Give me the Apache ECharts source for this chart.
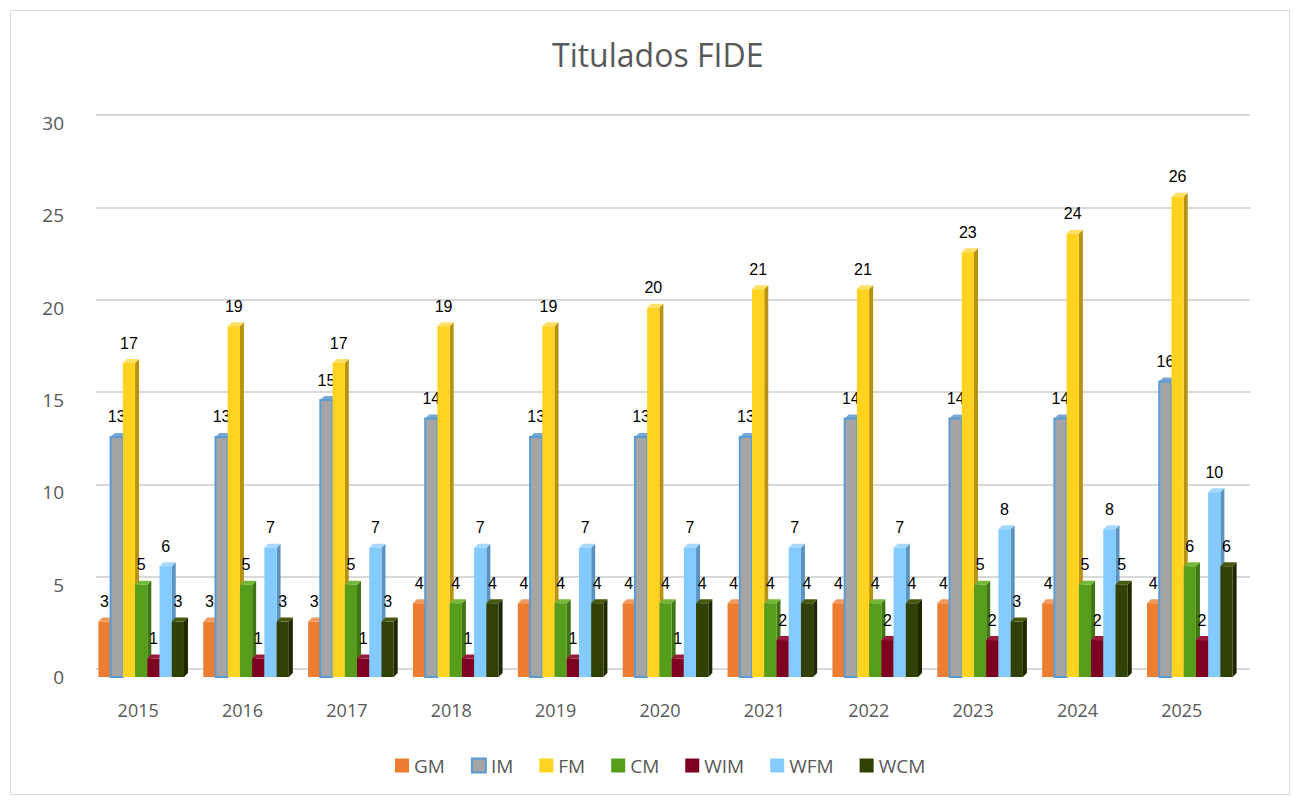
<!DOCTYPE html>
<html>
<head>
<meta charset="utf-8">
<script src="https://cdn.jsdelivr.net/npm/echarts@6/dist/echarts.min.js"></script>
<style>
  html, body { margin: 0; padding: 0; background: #fff; }
  #chart { width: 1294px; height: 801px; }
</style>
</head>
<body>
<div id="chart"></div>
<script>
// Titulados FIDE por año
const years = ['2015', '2016', '2017', '2018', '2019', '2020', '2021', '2022', '2023', '2024', '2025'];
const seriesNames = ['GM', 'IM', 'FM', 'CM', 'WIM', 'WFM', 'WCM'];
const gm  = [3, 3, 3, 4, 4, 4, 4, 4, 4, 4, 4];
const im  = [13, 13, 15, 14, 13, 13, 13, 14, 14, 14, 16];
const fm  = [17, 19, 17, 19, 19, 20, 21, 21, 23, 24, 26];
const cm  = [5, 5, 5, 4, 4, 4, 4, 4, 5, 5, 6];
const wim = [1, 1, 1, 1, 1, 1, 2, 2, 2, 2, 2];
const wfm = [6, 7, 7, 7, 7, 7, 7, 7, 8, 8, 10];
const wcm = [3, 3, 3, 4, 4, 4, 4, 4, 3, 5, 6];
const yTicks = [0, 5, 10, 15, 20, 25, 30];

const allData = [gm, im, fm, cm, wim, wfm, wcm];
const frontColors = ['#ed7d31', '#a5a5a5', '#ffd320', '#579d1c', '#7e0021', '#83caff', '#314004'];
const sideColors  = ['#b85d22', '#5b8fc4', '#b8930f', '#3f7512', '#560016', '#5a93c0', '#1e2702'];
const topColors   = ['#f29a5e', '#7aa8d6', '#ffe066', '#74b83a', '#9a1a3a', '#a6d8ff', '#46580c'];
const borderColors = [null, '#5b9bd5', null, null, null, null, null];

const myChart = echarts.init(document.getElementById('chart'), null, { renderer: 'svg' });

function makeRender(idx) {
  return function (params, api) {
    const catW = api.size([1, 0])[0];
    const groupW = catW * 0.82;
    const barW = groupW / 7;
    const d = 4;
    // small perspective drift to the right, like the 3D original
    const shift = 3 + 0.5 * params.dataIndex;
    const base = api.coord([api.value(0), 0]);
    const top = api.coord([api.value(0), api.value(1)]);
    const x0 = base[0] - groupW / 2 + idx * barW + shift;
    const x1 = x0 + barW;
    const yt = top[1];
    const yb = base[1];
    const children = [
      {
        type: 'polygon',
        shape: { points: [[x1, yt], [x1 + d, yt - d], [x1 + d, yb - d], [x1, yb]] },
        style: { fill: sideColors[idx] }
      },
      {
        type: 'polygon',
        shape: { points: [[x0, yt], [x0 + d, yt - d], [x1 + d, yt - d], [x1, yt]] },
        style: { fill: topColors[idx] }
      },
      {
        type: 'rect',
        shape: { x: x0, y: yt, width: barW, height: yb - yt },
        style: borderColors[idx]
          ? { fill: frontColors[idx], stroke: borderColors[idx], lineWidth: 2 }
          : { fill: frontColors[idx] }
      },
      {
        type: 'text',
        x: x0 + barW / 2,
        y: yt - 12,
        style: {
          text: String(api.value(1)),
          fill: '#000',
          font: '16px "Liberation Sans", Arial, sans-serif',
          align: 'center',
          verticalAlign: 'bottom'
        }
      }
    ];
    return { type: 'group', children: children };
  };
}

const barSeries = seriesNames.map((name, idx) => ({
  name: name,
  type: 'custom',
  xAxisIndex: 0,
  yAxisIndex: 0,
  renderItem: makeRender(idx),
  encode: { x: 0, y: 1 },
  z: 5,
  itemStyle: borderColors[idx]
    ? { color: frontColors[idx], borderColor: borderColors[idx], borderWidth: 1.5 }
    : { color: frontColors[idx] },
  data: allData[idx].map((v, i) => [i, v])
}));

const option = {
  backgroundColor: '#fff',
  animation: false,
  textStyle: { fontFamily: '"Open Sans", "Noto Sans", sans-serif' },
  graphic: [
    {
      type: 'rect',
      shape: { x: 10.5, y: 10.5, width: 1279, height: 784 },
      style: { fill: 'none', stroke: '#d9d9d9', lineWidth: 1 },
      silent: true,
      z: -10
    }
  ],
  title: {
    text: 'Titulados FIDE',
    left: 547,
    top: 33,
    textStyle: {
      fontSize: 32,
      fontWeight: 'normal',
      color: '#595959',
      fontFamily: '"Open Sans", "Noto Sans", sans-serif'
    }
  },
  legend: {
    data: seriesNames,
    bottom: 21,
    left: 390,
    icon: 'rect',
    itemWidth: 14,
    itemHeight: 14,
    itemGap: 26,
    textStyle: { fontSize: 19, color: '#595959' }
  },
  // front plane (bars, labels) and back wall (gridlines)
  grid: [
    { left: 86, right: 60, top: 123, bottom: 124 },
    { left: 96, right: 44, top: 115, bottom: 132 }
  ],
  xAxis: [
    {
      type: 'category',
      gridIndex: 0,
      data: years,
      axisLine: { show: false },
      axisTick: { show: false },
      axisLabel: { fontSize: 18, color: '#595959', margin: 24 }
    },
    {
      type: 'category',
      gridIndex: 1,
      data: years,
      show: false
    }
  ],
  yAxis: [
    {
      type: 'value',
      gridIndex: 0,
      min: yTicks[0],
      max: yTicks[yTicks.length - 1],
      interval: 5,
      axisLine: { show: false },
      axisTick: { show: false },
      axisLabel: { fontSize: 19, color: '#595959', margin: 22 },
      splitLine: { show: false }
    },
    {
      type: 'value',
      gridIndex: 1,
      min: yTicks[0],
      max: yTicks[yTicks.length - 1],
      interval: 5,
      axisLine: { show: false },
      axisTick: { show: false },
      axisLabel: { show: false },
      splitLine: { show: true, lineStyle: { color: '#d9d9d9', width: 2 } }
    }
  ],
  series: barSeries
};

myChart.setOption(option);
</script>
</body>
</html>
